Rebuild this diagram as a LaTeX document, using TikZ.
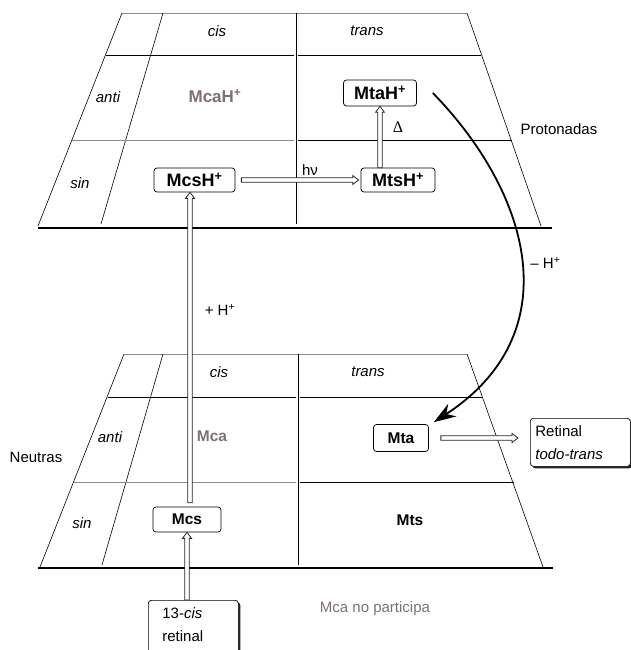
\documentclass[tikz,border=0pt]{standalone}
\usepackage{fontspec}
\setmainfont{Liberation Sans}
\newfontfamily\symbfont{Liberation Serif}
\usetikzlibrary{arrows.meta,calc,shadows}
\definecolor{txtgray}{RGB}{125,112,115}
\definecolor{linegray}{RGB}{140,140,140}
\tikzset{openarr/.style={draw=black!85, fill=white, line width=0.8pt, line join=miter}}
\newcommand\arrRight[2]{\draw[openarr] let \p1=(#1), \p2=(#2) in
  (\x1,\y1+2.2pt) -- (\x2-6pt,\y1+2.2pt) -- (\x2-6pt,\y1+4.5pt) -- (\x2,\y1)
  -- (\x2-6pt,\y1-4.5pt) -- (\x2-6pt,\y1-2.2pt) -- (\x1,\y1-2.2pt) -- cycle;}
\newcommand\arrUp[2]{\draw[openarr] let \p1=(#1), \p2=(#2) in
  (\x1-2.2pt,\y1) -- (\x1-2.2pt,\y2-6pt) -- (\x1-4.5pt,\y2-6pt) -- (\x1,\y2)
  -- (\x1+4.5pt,\y2-6pt) -- (\x1+2.2pt,\y2-6pt) -- (\x1+2.2pt,\y1) -- cycle;}
\begin{document}
\begin{tikzpicture}[x=1pt,y=-1pt,
  thinline/.style={line width=0.6pt},
  grayline/.style={line width=0.6pt, draw=linegray},
  floorline/.style={line width=2pt},
  lbl/.style={font=\fontsize{15}{18}\selectfont},
  ital/.style={font=\fontsize{15}{18}\selectfont\itshape},
  boldlbl/.style={font=\fontsize{15.5}{18}\selectfont\bfseries},
  graybold/.style={font=\fontsize{17}{18}\selectfont\bfseries, text=txtgray},
  statebox/.style={draw, fill=white, rounded corners=3pt, line width=0.7pt, font=\fontsize{15.5}{18}\selectfont\bfseries, inner sep=0pt, minimum height=25pt},
  protbox/.style={statebox, font=\fontsize{18}{20}\selectfont\bfseries},
  shadowbox/.style={draw, fill=white, rounded corners=3pt, line width=0.7pt, align=left, font=\fontsize{15}{23}\selectfont,
    drop shadow={shadow xshift=2pt, shadow yshift=-2pt, fill=black, opacity=0.85}},
  bigarrow/.style={line width=1.8pt, -{Stealth[length=22pt, width=15pt]}}
]
\useasboundingbox (0,0) rectangle (631,650);

% ---------- top plane (protonated) ----------
\draw[grayline] (122,13) -- (467,13);
\draw[thinline] (122,13) -- (38,226);
\draw[thinline] (467,13) -- (541,226);
\draw[thinline] (163,13) -- (101,224);
\draw[thinline] (296,13) -- (296,224);
\draw[thinline] (106,55) -- (294,55);
\draw[thinline] (298,55) -- (481,55);
\draw[grayline] (72,140) -- (294,140);
\draw[thinline] (298,140) -- (512,140);
\draw[floorline] (38,228) -- (552,228);

\node[ital] (cisT) at (217,31) {cis};
\node[ital] (transT) at (367,31) {trans};
\node[ital] (antiT) at (108,97) {anti};
\node[ital] (sinT) at (80,183) {sin};
\node[graybold] (mcah) at (215,96) {McaH\textsuperscript{+}};

% ---------- bottom plane (neutral) ----------
\begin{scope}[shift={(0,341)}]
\draw[grayline] (124,13) -- (467,13);
\draw[thinline] (124,13) -- (40,226);
\draw[thinline] (467,13) -- (543,226);
\draw[thinline] (163,13) -- (102,224);
\draw[thinline] (298,13) -- (298,224);
\draw[thinline] (108,56) -- (296,56);
\draw[thinline] (300,56) -- (482,56);
\draw[grayline] (74,141) -- (296,141);
\draw[thinline] (300,141) -- (514,141);
\draw[floorline] (38,227) -- (553,227);
\end{scope}

\node[ital] (cisB) at (219,372) {cis};
\node[ital] (transB) at (368,372) {trans};
\node[ital] (antiB) at (110,437) {anti};
\node[ital] (sinB) at (82,523) {sin};
\node[boldlbl, text=txtgray] (mca) at (212,436) {Mca};
\node[boldlbl] (mts) at (410,520) {Mts};

% ---------- state boxes ----------
\node[protbox, minimum width=81pt, minimum height=24pt] (mcsh) at (194.5,180) {McsH\textsuperscript{+}};
\node[protbox, minimum width=74pt, minimum height=24pt] (mtsh) at (398,180) {MtsH\textsuperscript{+}};
\node[protbox, minimum width=73pt, minimum height=26pt] (mtah) at (380,93) {MtaH\textsuperscript{+}};
\node[statebox, minimum width=68pt] (mcs) at (187,519.5) {Mcs};
\node[statebox, minimum width=55pt, minimum height=27pt] (mta) at (401,438) {Mta};

\node[shadowbox, anchor=north west, text width=90pt, inner xsep=5pt, inner ysep=1pt, minimum height=48pt] (ret) at (530,418) {Retinal\\\textit{todo-trans}};
\node[shadowbox, anchor=north west, text width=62pt, inner xsep=14pt, inner ysep=7pt] (cis13) at (148,600) {13-\textit{cis}\\retinal\\ \strut};

% ---------- side labels ----------
\node[lbl, anchor=west] (prot) at (517,129) {Protonadas};
\node[lbl] (neut) at (36,457) {Neutras};
\node[lbl, text=txtgray] (nopart) at (375,609) {Mca no participa};
\node[lbl] (plush) at (220,310) {+ H\textsuperscript{+}};
\node[lbl] (hnu) at (310,170) {hν};
\node[font=\fontsize{16}{18}\symbfont] (delta) at (398,127) {Δ};
\coordinate (ax) at (190,0);

% ---------- connectors ----------
\arrRight{[xshift=6pt]mcsh.east}{[xshift=-2pt]mtsh.west}
\arrUp{mtah.south |- mtsh.north}{mtah.south}
\arrUp{[yshift=4pt]mcs.north -| ax}{mcsh.south -| ax}
\arrUp{mcs.south |- cis13.north}{mcs.south}
\arrRight{[xshift=12pt]mta.east}{[xshift=-12pt]mta.east -| ret.west}
\draw[bigarrow] ([xshift=16pt]mtah.east) .. controls (532,195) and (569,334) .. ([shift={(5pt,2pt)}]mta.north east)
  node[lbl, pos=0.5, right=5pt] (minush) {– H\textsuperscript{+}};
\end{tikzpicture}
\end{document}
